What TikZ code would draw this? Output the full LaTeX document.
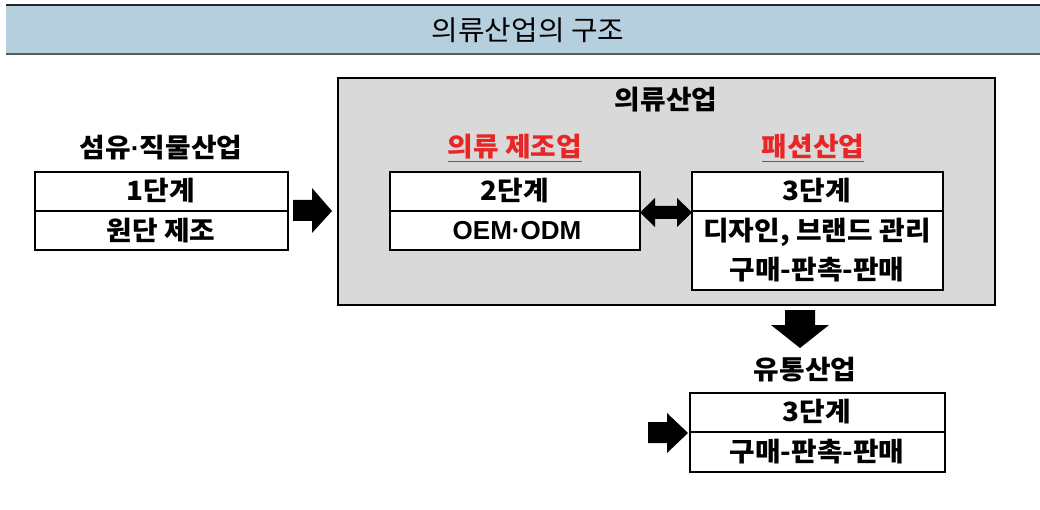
\documentclass[tikz,border=0pt]{standalone}
\usepackage{fontspec}
\setmainfont{Noto Sans CJK KR}[FakeStretch=1.05]
\newfontfamily\latinsf{Liberation Sans}
\definecolor{titlebg}{RGB}{181,207,222}
\definecolor{boxgray}{RGB}{217,217,217}
\definecolor{redtxt}{RGB}{232,38,38}
\newcommand{\mdot}{{\latinsf\bfseries ·}}
\begin{document}
\begin{tikzpicture}[x=1pt,y=-1pt,
  lbl/.style={font=\fontsize{26.5}{28}\selectfont\bfseries, inner sep=0pt, anchor=center},
  cell/.style={draw=black, line width=1.6pt},
  blk/.style={fill=black}]
\useasboundingbox (0,0) rectangle (1040,510);
\fill[white] (0,0) rectangle (1040,510);
% title bar
\fill[titlebg] (6,5) rectangle (1040,55);
\draw[line width=1.2pt, black!85] (6,5) -- (1040,5);
\draw[line width=2.2pt, black!65] (6,54) -- (1040,54);
\node[font=\fontsize{27.5}{30}\selectfont, inner sep=0pt] (title) at (528,30) {의류산업의 구조};
% left group
\node[lbl] (t1) at (161,148) {섬유\mdot 직물산업};
\draw[cell] (35,172) rectangle (288,250);
\draw[cell] (35,211) -- (288,211);
\node[lbl] (s1) at (161,191) {1단계};
\node[lbl] (d1) at (161,231) {원단 제조};
% arrow right
\fill[blk] (293,200) -- (312,200) -- (312,188) -- (332,211) -- (312,233) -- (312,221) -- (293,221) -- cycle;
% gray box
\draw[fill=boxgray, line width=1.6pt] (338,78) rectangle (995,305);
\node[lbl] (t2) at (666,100) {의류산업};
\node[lbl, text=redtxt] (r1) at (515,148) {\underline{의류 제조업}};
\node[lbl, text=redtxt] (r2) at (813,148) {\underline{패션산업}};
\draw[cell, fill=white] (390,172) rectangle (640,250);
\draw[cell] (390,211) -- (640,211);
\node[lbl] (s2) at (515,191) {2단계};
\node[lbl, font=\fontsize{26}{28}\selectfont\latinsf\bfseries] (d2) at (517,231) {OEM·ODM};
\draw[cell, fill=white] (692,172) rectangle (943,290);
\draw[cell] (692,211) -- (943,211);
\node[lbl] (s3) at (817,191) {3단계};
\node[lbl] (d3) at (817,232) {디자인, 브랜드 관리};
\node[lbl] (e3) at (817,270) {구매-판촉-판매};
% double arrow
\fill[blk] (640,212.5) -- (655,198) -- (655,206) -- (677,206) -- (677,198) -- (692,212.5) -- (677,227) -- (677,219) -- (655,219) -- (655,227) -- cycle;
% down arrow
\fill[blk] (785,310) -- (815,310) -- (815,325) -- (829,325) -- (800,348) -- (771,325) -- (785,325) -- cycle;
% distribution
\node[lbl] (t4) at (805,370) {유통산업};
\draw[cell] (690,393) rectangle (945,472);
\draw[cell] (690,432) -- (945,432);
\node[lbl] (s4) at (817,412) {3단계};
\node[lbl] (d4) at (817,452) {구매-판촉-판매};
% left arrow into box
\fill[blk] (648,422) -- (667,422) -- (667,413) -- (688,433) -- (667,453) -- (667,443) -- (648,443) -- cycle;
\end{tikzpicture}
\end{document}
